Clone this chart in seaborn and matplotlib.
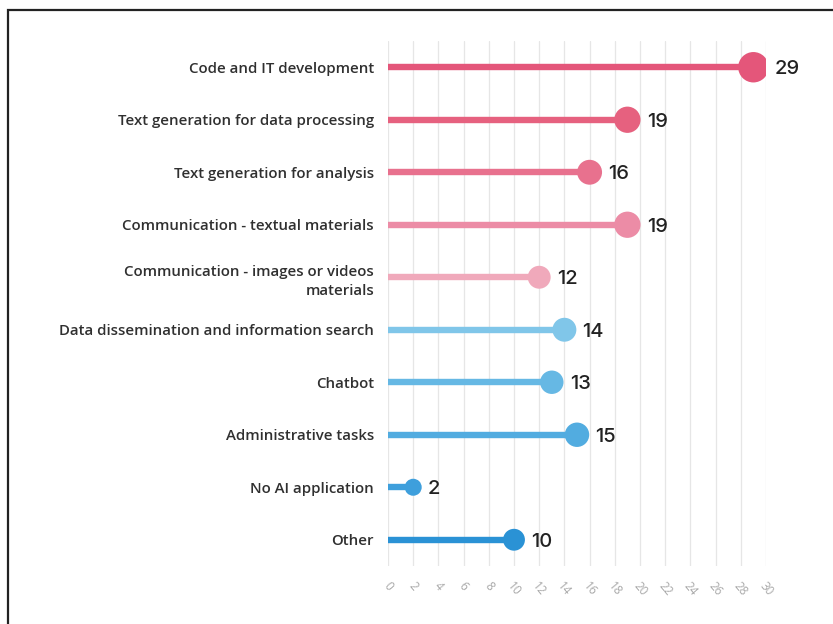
import matplotlib
matplotlib.use("Agg")
import matplotlib.pyplot as plt
import seaborn as sns
import pandas as pd
from matplotlib.patches import Rectangle

categories = [
    "Code and IT development",
    "Text generation for data processing",
    "Text generation for analysis",
    "Communication - textual materials",
    "Communication - images or videos\nmaterials",
    "Data dissemination and information search",
    "Chatbot",
    "Administrative tasks",
    "No AI application",
    "Other",
]
values = [29, 19, 16, 19, 12, 14, 13, 15, 2, 10]
colors = ["#e4567a", "#e6617f", "#e8718e", "#ec8ca6", "#f0a9bb",
          "#80c6e9", "#66b8e4", "#52ace0", "#3e9fdc", "#2a92d5"]
xticks = list(range(0, 31, 2))

sns.set_theme(style="white")
plt.rcParams["font.family"] = ["Open Sans", "DejaVu Sans"]

df = pd.DataFrame({"category": categories, "value": values})

fig = plt.figure(figsize=(8.33, 6.24), dpi=100)
ax = fig.add_axes([388 / 833, 1 - 566 / 624, (766 - 388) / 833, (566 - 41) / 624])

ypos = list(range(len(categories)))
for y, v, c in zip(ypos, values, colors):
    ax.plot([0, v], [y, y], color=c, lw=4.6, solid_capstyle="round", zorder=2)

smin, smax = 150, 480
sns.scatterplot(data=df, x="value", y="category", hue="category",
                palette=colors, size="value", sizes=(smin, smax),
                legend=False, edgecolor="none", ax=ax, zorder=3)

vmin, vmax = min(values), max(values)
for y, v in zip(ypos, values):
    s = smin + (v - vmin) / (vmax - vmin) * (smax - smin)
    r = (s ** 0.5) / 2
    ax.annotate(str(v), (v, y), xytext=(r + 4.5, -1.5), textcoords="offset points",
                ha="left", va="center", fontsize=14.5, color="#222222",
                fontweight="medium", family=["Inter", "DejaVu Sans"])

ax.set_xlim(0, 30)
ax.set_ylim(len(categories) - 0.5, -0.5)
ax.set_xticks(xticks)
ax.set_xticklabels([str(t) for t in xticks], rotation=-50, ha="center",
                   fontsize=8.5, color="#a8a8a8")
ax.set_yticks(ypos)
ax.set_yticklabels(categories, fontsize=10.8, color="#303030", ha="right",
                   fontweight="semibold", linespacing=1.5)
ax.tick_params(axis="y", length=0, pad=10)
ax.tick_params(axis="x", length=0, pad=10)
ax.set_xlabel("")
ax.set_ylabel("")
ax.grid(axis="x", color="#e6e6e6", lw=0.9)
ax.grid(axis="y", visible=False)
for sp in ax.spines.values():
    sp.set_visible(False)

fig.add_artist(Rectangle((8 / 833, -0.1), 1.2, 1 - 10 / 624 + 0.1,
                         transform=fig.transFigure, fill=False,
                         edgecolor="#222222", lw=1.6))

fig.savefig("out.png", dpi=100)
